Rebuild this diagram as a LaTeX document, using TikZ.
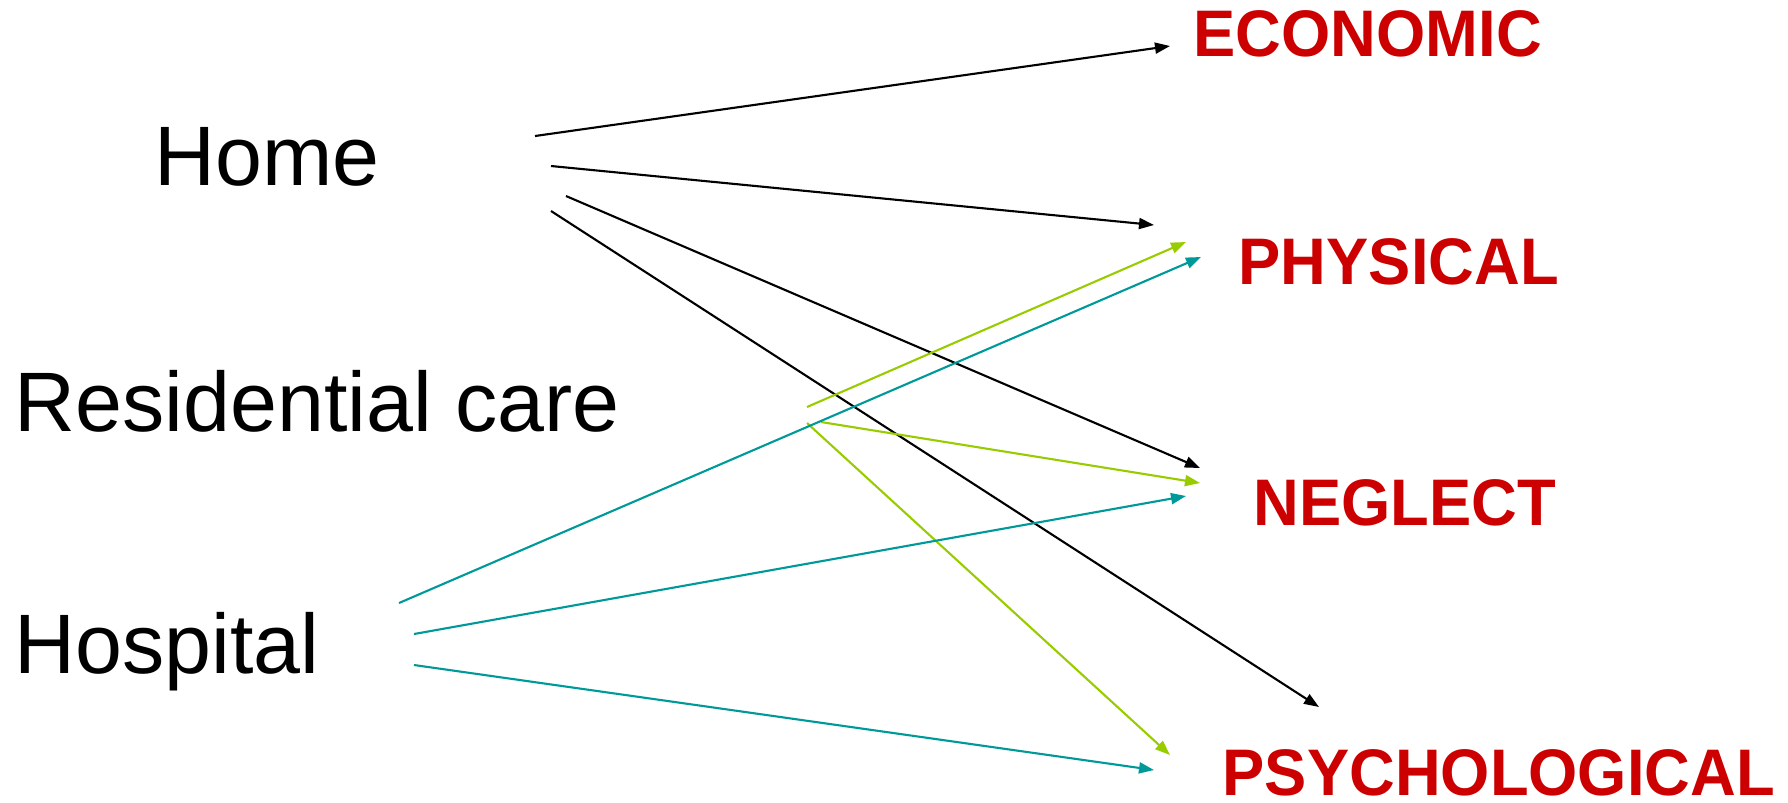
\documentclass[tikz,border=0pt]{standalone}
\usepackage{fontspec}
\setmainfont{Liberation Sans}
\usetikzlibrary{arrows.meta}
\definecolor{abred}{HTML}{CC0000}
\definecolor{limeg}{HTML}{99CC00}
\definecolor{tealc}{HTML}{009999}
\begin{document}
\begin{tikzpicture}[x=0.01cm,y=-0.01cm,
  src/.style={anchor=base west,inner sep=0pt,font=\fontsize{24}{28}\selectfont},
  tgt/.style={anchor=base west,inner sep=0pt,text=abred,font=\fontsize{18}{22}\selectfont\bfseries},
  link/.style={line width=0.6pt,-{Triangle[length=0.15cm,width=0.11cm]}},
  homel/.style={link,black},
  resl/.style={link,limeg},
  hosl/.style={link,tealc}]
\useasboundingbox (0,0) rectangle (1788,802);
% labels
\node[src] (home) at (154,185) {Home};
\node[src] (res) at (14,431) {Residential care};
\node[src] (hosp) at (14,673) {Hospital};
\node[tgt] (eco) at (1193,56) {\scalebox{1}[1.04]{ECONOMIC}};
\node[tgt] (phy) at (1238,284) {\scalebox{1}[1.04]{PHYSICAL}};
\node[tgt] (neg) at (1253,525) {\scalebox{1}[1.04]{NEGLECT}};
\node[tgt] (psy) at (1222,795) {\scalebox{1}[1.04]{PSYCHOLOGICAL}};
% start points
\coordinate (h1) at (535,136);
\coordinate (h2) at (551,166);
\coordinate (h3) at (566,196);
\coordinate (h4) at (551,211);
\coordinate (r1) at (807,407);
\coordinate (r2) at (821,422);
\coordinate (r3) at (807,423);
\coordinate (p1) at (399,603);
\coordinate (p2) at (414,634);
\coordinate (p3) at (414,665);
% end points
\coordinate (ecoA) at (1170,46);
\coordinate (phyA) at (1154,225);
\coordinate (negA) at (1200,468);
\coordinate (psyA) at (1319,707);
\coordinate (phyB) at (1186,242);
\coordinate (negB) at (1200,483);
\coordinate (psyB) at (1170,755);
\coordinate (phyC) at (1201,257);
\coordinate (negC) at (1186,496);
\coordinate (psyC) at (1154,770);
% connectors
\draw[homel] (h1) -- (ecoA);
\draw[homel] (h2) -- (phyA);
\draw[homel] (h3) -- (negA);
\draw[homel] (h4) -- (psyA);
\draw[resl] (r1) -- (phyB);
\draw[resl] (r2) -- (negB);
\draw[resl] (r3) -- (psyB);
\draw[hosl] (p1) -- (phyC);
\draw[hosl] (p2) -- (negC);
\draw[hosl] (p3) -- (psyC);
\end{tikzpicture}
\end{document}
